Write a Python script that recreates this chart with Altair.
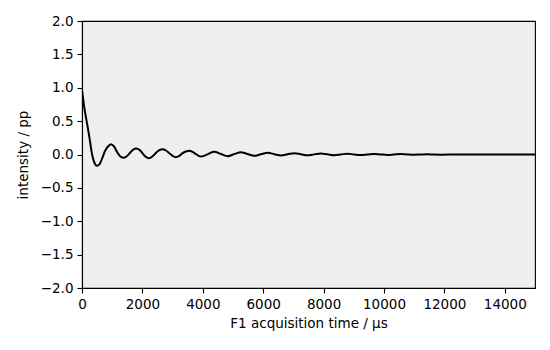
import altair as alt
import pandas as pd

time_us = [0, 35, 70, 130, 200, 265, 330, 400, 500, 600, 690, 760, 860, 960,
           1060, 1170, 1270, 1390, 1500, 1600, 1700, 1790, 1900, 2000, 2100,
           2220, 2330, 2440, 2560, 2670, 2780, 2890, 3000, 3110, 3220, 3330,
           3440, 3550, 3660, 3760, 3860, 3960, 4170, 4380, 4600, 4820, 5040,
           5255, 5480, 5700, 5920, 6150, 6370, 6590, 6810, 7030, 7250, 7470,
           7690, 7910, 8130, 8350, 8570, 8790, 9010, 9230, 9450, 9670, 9890,
           10110, 10330, 10550, 10770, 10990, 11210, 11430, 11650, 11870,
           12500, 13500, 15000]
intensity = [0.97, 0.84, 0.72, 0.56, 0.38, 0.20, 0.01, -0.11, -0.17, -0.13,
             -0.03, 0.05, 0.12, 0.155, 0.12, 0.03, -0.03, -0.05, -0.02, 0.03,
             0.075, 0.09, 0.07, 0.02, -0.03, -0.057, -0.03, 0.02, 0.065, 0.08,
             0.06, 0.02, -0.02, -0.04, -0.02, 0.02, 0.045, 0.057, 0.04, 0.01,
             -0.02, -0.03, 0.005, 0.04, 0.008, -0.025, 0.005, 0.035, 0.008,
             -0.02, 0.003, 0.025, 0.005, -0.015, 0.003, 0.02, 0.004, -0.012,
             0.002, 0.015, 0.002, -0.01, 0.001, 0.012, 0.001, -0.008, 0.0,
             0.009, 0.001, -0.006, 0.0, 0.006, 0.001, -0.004, 0.0, 0.004, 0.0,
             -0.002, 0.0, 0.0, 0.0]

df = pd.DataFrame({"t": time_us, "v": intensity})

font = "DejaVu Sans"

chart = alt.Chart(df).mark_line(
    color="black", strokeWidth=2, interpolate="monotone", clip=True
).encode(
    x=alt.X("t:Q", scale=alt.Scale(domain=[0, 15000], nice=False, zero=False),
            axis=alt.Axis(title="F1 acquisition time / µs", values=list(range(0, 15001, 2000)),
                          format="d", titlePadding=6, labelFlush=False)),
    y=alt.Y("v:Q", scale=alt.Scale(domain=[-2, 2], nice=False),
            axis=alt.Axis(title="intensity / pp", values=[-2, -1.5, -1, -0.5, 0, 0.5, 1, 1.5, 2],
                          format=".1f", titlePadding=10, labelFlush=False)),
).properties(
    width=453, height=267,
    autosize=alt.AutoSizeParams(type="none"),
    padding={"left": 74, "top": 13, "right": 7, "bottom": 54},
).configure_view(
    fill="#efefef", stroke="black", strokeWidth=1.1
).configure_axis(
    grid=False, domainColor="black", domainWidth=1.1, tickColor="black",
    tickSize=5, tickWidth=1.1, labelFont=font, labelFontSize=13.5,
    labelColor="black", labelPadding=4, titleFont=font, titleFontSize=13.5,
    titleFontWeight="normal", titleColor="black"
)

chart.save("out.html", embed_options={"renderer": "svg", "actions": False})
